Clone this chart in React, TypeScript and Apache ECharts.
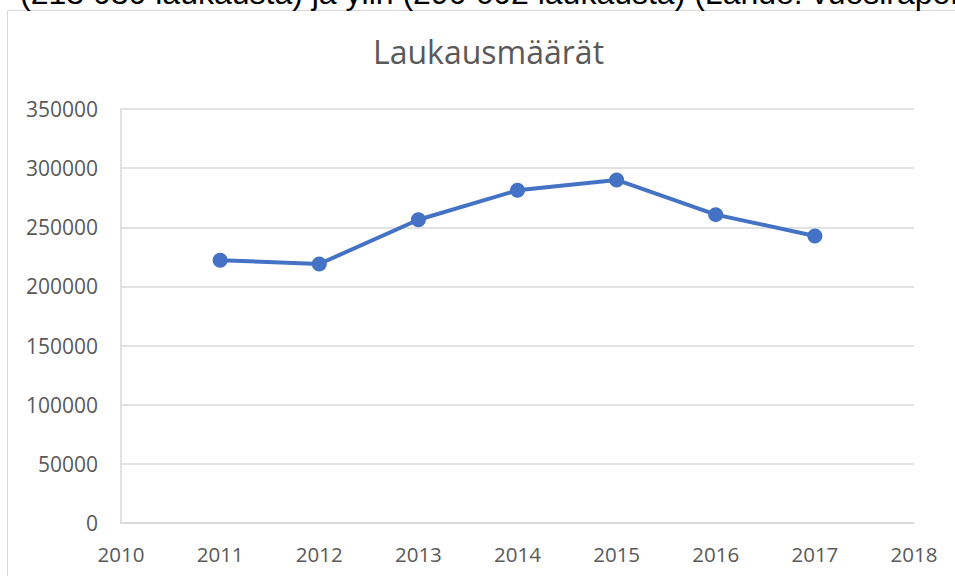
import React, { useEffect, useRef } from "react";
import * as echarts from "echarts";

const years = [2011, 2012, 2013, 2014, 2015, 2016, 2017];
const shots = [222100, 219000, 256400, 281300, 290000, 260700, 242700];
const xMin = 2010;
const xMax = 2018;
const yMax = 350000;
const yStep = 50000;
const title = "Laukausmäärät";
const topText = "(213 030 laukausta) ja ylin (290 602 laukausta) (Lähde: vuosiraportit)";

export default function App() {
  const ref = useRef<HTMLDivElement>(null);
  useEffect(() => {
    if (!ref.current) return;
    const chart = echarts.init(ref.current, null, { renderer: "svg" });
    chart.setOption({
      animation: false,
      backgroundColor: "#ffffff",
      title: {
        text: title,
        left: 373,
        top: 35,
        padding: 0,
        textStyle: {
          fontFamily: "Open Sans",
          fontSize: 32,
          fontWeight: "normal",
          color: "#595959",
        },
      },
      graphic: [
        {
          type: "rect",
          shape: { x: 7.5, y: 10.5, width: 1000, height: 700 },
          style: { fill: "none", stroke: "#d9d9d9", lineWidth: 1 },
          z: -1,
        },
        {
          type: "text",
          x: 20,
          y: -7,
          style: {
            text: topText,
            fontFamily: "Liberation Sans",
            fontSize: 32,
            fill: "#000000",
            verticalAlign: "middle",
            align: "left",
          },
        },
      ],
      grid: { left: 121, right: 41, top: 109, bottom: 53 },
      xAxis: {
        type: "value",
        min: xMin,
        max: xMax,
        interval: 1,
        axisLine: { show: true, lineStyle: { color: "#d9d9d9", width: 1.5 } },
        axisTick: { show: false },
        splitLine: { show: false },
        axisLabel: {
          color: "#595959",
          fontFamily: "Open Sans",
          fontSize: 20.5,
          margin: 20,
          formatter: (v: number) => String(v),
        },
      },
      yAxis: {
        type: "value",
        min: 0,
        max: yMax,
        interval: yStep,
        axisLine: { show: true, lineStyle: { color: "#d9d9d9", width: 1.5 } },
        axisTick: { show: false },
        splitLine: { show: true, lineStyle: { color: "#d9d9d9", width: 1.5 } },
        axisLabel: {
          color: "#595959",
          fontFamily: "Open Sans",
          fontSize: 21,
          margin: 23,
          formatter: (v: number) => String(v),
        },
      },
      series: [
        {
          type: "line",
          data: years.map((y, i) => [y, shots[i]]),
          symbol: "circle",
          symbolSize: 15,
          lineStyle: { color: "#4472C4", width: 4 },
          itemStyle: { color: "#4472C4" },
        },
      ],
    });
    return () => chart.dispose();
  }, []);
  return (
    <div
      ref={ref}
      style={{ position: "fixed", left: 0, top: 0, width: 955, height: 576 }}
    />
  );
}
